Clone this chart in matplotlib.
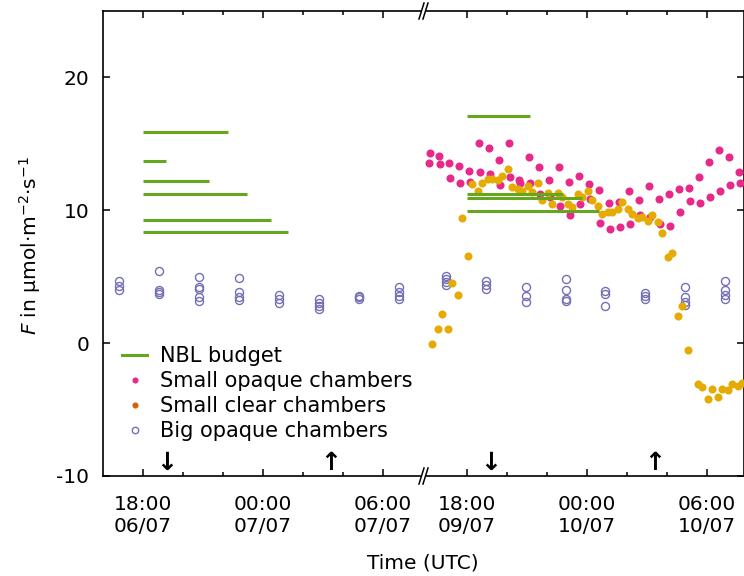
import numpy as np
import matplotlib.pyplot as plt
from matplotlib.lines import Line2D
from matplotlib.patches import Polygon

plt.rcParams['axes.unicode_minus'] = False
plt.rcParams['font.size'] = 14.5

green = '#66a61e'
pink = '#e7298a'
gold = '#e6ab02'
orange = '#d95f02'
purple = '#7570b3'

# times in hours after 00:00 of the first day of each period (06/07 and 09/07)
# NBL budget: start, end, flux
nbl_start_1 = [18.0, 18.0, 18.0, 18.0, 18.0, 18.0]
nbl_end_1 = [22.25, 19.15, 21.3, 23.2, 24.4, 25.25]
nbl_flux_1 = [15.9, 13.7, 12.2, 11.25, 9.27, 8.35]
nbl_start_2 = [18.0, 18.0, 18.0, 18.0]
nbl_end_2 = [21.15, 22.8, 23.75, 24.6]
nbl_flux_2 = [17.07, 11.2, 10.9, 9.92]

# big opaque chambers
big_t_1 = [16.8, 18.8, 20.8, 22.8, 24.8, 26.8, 28.8, 30.8]
big_f_1 = [[4.65, 4.3, 4.0], [5.45, 4.0, 3.85, 3.7], [5.0, 4.25, 4.1, 3.5, 3.2],
           [4.9, 3.85, 3.45, 3.25], [3.6, 3.3, 3.05], [3.35, 3.05, 2.8, 2.55],
           [3.55, 3.45, 3.35], [4.25, 3.85, 3.55, 3.3]]
big_t_2 = [16.94, 18.94, 20.94, 22.94, 24.92, 26.9, 28.92, 30.92]
big_f_2 = [[5.05, 4.85, 4.6, 4.35], [4.65, 4.4, 4.05], [4.25, 3.55, 3.1],
           [4.85, 4.0, 3.3, 3.15], [3.95, 3.7, 2.8], [3.8, 3.55, 3.3],
           [4.2, 3.5, 3.1, 2.85], [4.65, 4.0, 3.6, 3.3]]

# small opaque chambers (09/07-10/07), one sample every 30 min
opaque_t0_a = 16.1
opaque_a = [13.59, 14.11, 13.56, 13.31, 12.96, 15.09, 14.71, 13.78, 15.09, 12.26,
            14.01, 13.28, 12.26, 13.26, 12.1, 12.56, 12.0, 11.56, 10.58, 10.65,
            11.45, 10.75, 11.8, 10.88, 11.23, 11.58, 11.7, 12.53, 13.61, 14.56,
            14.01, 12.86]
opaque_t0_b = 16.17
opaque_b = [14.34, 13.51, 12.46, 12.03, 12.13, 12.91, 12.73, 11.88, 12.53, 12.03,
            12.08, 11.25, 11.0, 10.3, 9.65, 10.47, 10.83, 9.05, 8.6, 8.72,
            8.97, 9.62, 9.5, 8.95, 8.8, 9.87, 10.73, 10.55, 11.03, 11.48,
            11.93, 12.08]

# small clear chambers
clear_t0_a = 16.535
clear_a = [1.03, 1.03, 3.61, 6.54, 11.45, 12.38, 12.26, 13.08, 11.6, 11.86,
           12.08, 11.3, 11.3, 10.47, 11.25, 11.45, 10.32, 9.87, 10.13, 10.13,
           9.42, 9.2, 9.12, 6.49, 2.08, -0.48, -3.1, -4.2, -4.03, -3.53, -3.23]
clear_t0_b = 16.235
clear_b = [-0.03, 2.18, 4.53, 9.4, 12.0, 12.08, 12.38, 12.56, 11.75, 11.45,
           11.35, 10.8, 10.47, 11.0, 10.23, 11.0, 10.75, 9.75, 9.87, 10.65,
           9.75, 9.5, 9.62, 8.32, 6.82, 2.83, np.nan, -3.28, -3.48, -3.46,
           -3.1, -3.03]

# sunset / sunrise
sunset = 19.2
sunrise = 27.4

W, H = 744, 576
fig = plt.figure(figsize=(W / 100, H / 100), dpi=100)
ax1 = fig.add_axes([103 / W, 1 - 476 / H, 320 / W, 465 / H])
ax2 = fig.add_axes([423 / W, 1 - 476 / H, 320.5 / W, 465 / H], sharey=ax1)

ms = 5.8
for t, fs in zip(big_t_1, big_f_1):
    ax1.plot([t] * len(fs), fs, 'o', ms=ms, mfc='none', mec=purple, mew=1.0, zorder=2)
for t, fs in zip(big_t_2, big_f_2):
    ax2.plot([t] * len(fs), fs, 'o', ms=ms, mfc='none', mec=purple, mew=1.0, zorder=2)

ax2.plot(opaque_t0_a + 0.5 * np.arange(len(opaque_a)), opaque_a, 'o', ms=ms, color=pink, mec='none', zorder=3)
ax2.plot(opaque_t0_b + 0.5 * np.arange(len(opaque_b)), opaque_b, 'o', ms=ms, color=pink, mec='none', zorder=3)
ax2.plot(clear_t0_a + 0.5 * np.arange(len(clear_a)), clear_a, 'o', ms=ms, color=gold, mec='none', zorder=4)
ax2.plot(clear_t0_b + 0.5 * np.arange(len(clear_b)), clear_b, 'o', ms=ms, color=gold, mec='none', zorder=4)

ax1.hlines(nbl_flux_1, nbl_start_1, nbl_end_1, color=green, lw=2.2, zorder=5)
ax2.hlines(nbl_flux_2, nbl_start_2, nbl_end_2, color=green, lw=2.2, zorder=5)

for ax in (ax1, ax2):
    ax.text(sunset, -9.05, '↓', ha='center', va='center', fontsize=18, fontweight='bold')
    ax.text(sunrise, -9.05, '↑', ha='center', va='center', fontsize=18, fontweight='bold')

ax1.set_xlim(16, 32)
ax2.set_xlim(15.8, 31.825)
ax1.set_ylim(-10, 25)
ax1.set_yticks([-10, 0, 10, 20])

ax1.set_xticks([18, 24, 30])
ax1.set_xticklabels(['18:00\n06/07', '00:00\n07/07', '06:00\n07/07'])
ax2.set_xticks([18, 24, 30])
ax2.set_xticklabels(['18:00\n09/07', '00:00\n10/07', '06:00\n10/07'])
for ax in (ax1, ax2):
    ax.set_xticks([20, 22, 26, 28], minor=True)
    for s in ax.spines.values():
        s.set_linewidth(1.2)

ax1.spines['right'].set_visible(False)
ax2.spines['left'].set_visible(False)
ax1.tick_params(which='both', direction='in', top=True, right=False, width=1.1)
ax2.tick_params(which='both', direction='in', top=True, left=False, right=True,
                labelleft=False, width=1.1)
for ax in (ax1, ax2):
    ax.tick_params(which='major', length=5)
    ax.tick_params(which='minor', length=3)
    ax.tick_params(axis='x', which='both', pad=14)
    ax.tick_params(axis='y', which='both', pad=10)

# axis break marks
def fpx(x, y):
    return x / W, 1 - y / H

for yb in (11, 476):
    pts = [fpx(419, yb + 8), fpx(424, yb - 8), fpx(428, yb - 8), fpx(423, yb + 8)]
    fig.add_artist(Polygon(pts, closed=True, transform=fig.transFigure,
                           facecolor='white', edgecolor='none', zorder=5))
    for dx in (0, 4):
        (xa, ya), (xb, yb2) = fpx(419 + dx, yb + 8), fpx(424 + dx, yb - 8)
        fig.add_artist(Line2D([xa, xb], [ya, yb2], transform=fig.transFigure,
                              color='black', lw=1.1, zorder=6))

fig.text(30 / W, 1 - 245 / H, r'$F$ in µmol·m$^{-2}$·s$^{-1}$', rotation=90,
         ha='center', va='center')
fig.text(423 / W, 1 - 563 / H, 'Time (UTC)', ha='center', va='center')

handles = [
    Line2D([], [], color=green, lw=2.2),
    Line2D([], [], ls='none', marker='o', ms=4.4, color=pink, mec='none'),
    Line2D([], [], ls='none', marker='o', ms=4.4, color=orange, mec='none'),
    Line2D([], [], ls='none', marker='o', ms=4.6, mfc='none', mec=purple, mew=1.0),
]
labels = ['NBL budget', 'Small opaque chambers', 'Small clear chambers', 'Big opaque chambers']
ax1.legend(handles, labels, loc='upper left', bbox_to_anchor=fpx(122, 346),
           bbox_transform=fig.transFigure, frameon=False, fontsize=15,
           handlelength=1.22, handletextpad=0.6, labelspacing=0.24,
           borderpad=0, borderaxespad=0)

fig.savefig('out.png', dpi=100)
